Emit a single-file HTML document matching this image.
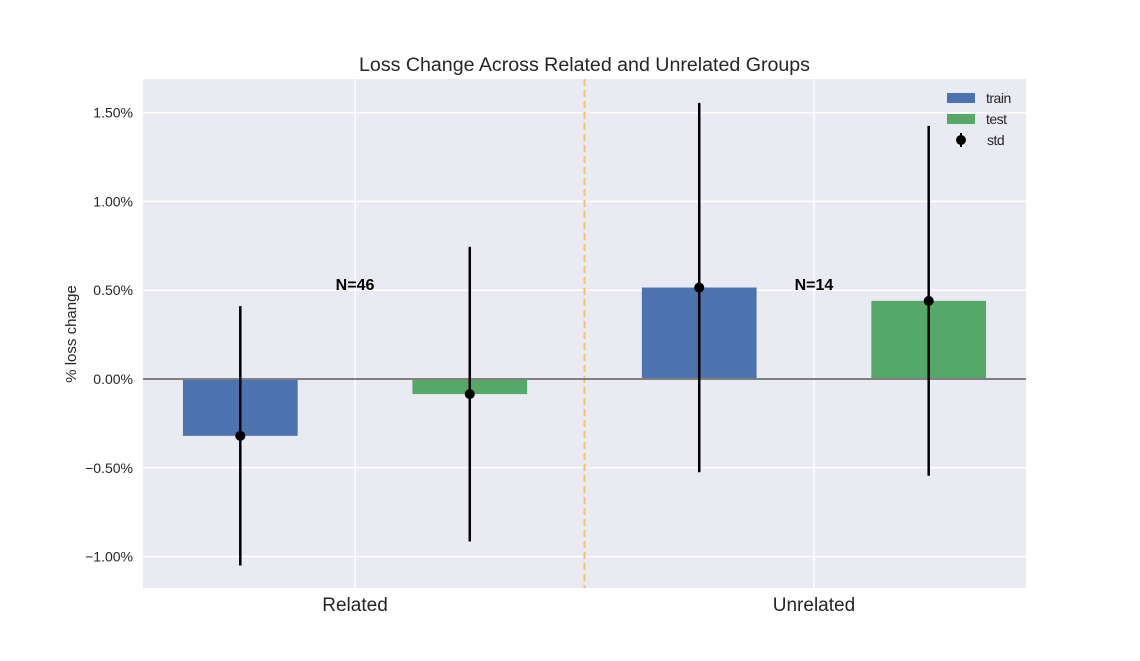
<!DOCTYPE html>
<html><head><meta charset="utf-8"><style>
body{margin:0;background:#fff;}
svg{display:block;font-family:"Liberation Sans",sans-serif;}
</style></head><body>
<svg id="chart" width="1140" height="661" viewBox="0 0 1140 661" xmlns="http://www.w3.org/2000/svg">
<rect x="143" y="79" width="883" height="509" fill="#eaeaf2"/>
<g id="grid"></g>
<g id="bars"></g>
<g id="ticks"></g>
<text x="584.5" y="71" font-size="19.6" text-anchor="middle" fill="#262626">Loss Change Across Related and Unrelated Groups</text>
<text transform="translate(76,334) rotate(-90)" font-size="15" text-anchor="middle" fill="#262626">% loss change</text>
<g>
<rect x="947" y="93" width="28" height="10" fill="#4c72b0"/>
<text x="986" y="103" font-size="14" fill="#262626" letter-spacing="-0.5">train</text>
<rect x="947" y="114" width="28" height="10" fill="#55a868"/>
<text x="986" y="124" font-size="14" fill="#262626" letter-spacing="-0.5">test</text>
<line x1="961" y1="133" x2="961" y2="147" stroke="#000" stroke-width="2"/>
<circle cx="961" cy="140" r="5" fill="#000"/>
<text x="987" y="145" font-size="14" fill="#262626" letter-spacing="-0.5">std</text>
</g>
</svg>
<script>
const categories = ["Related", "Unrelated"];
const counts = ["N=46", "N=14"];
const trainValues = [-0.32, 0.515];
const testValues = [-0.085, 0.44];
const trainStd = [0.73, 1.04];
const testStd = [0.83, 0.985];
const yTicks = [-1.0, -0.5, 0.0, 0.5, 1.0, 1.5];
const yTickLabels = ["\u22121.00%", "\u22120.50%", "0.00%", "0.50%", "1.00%", "1.50%"];

const NS = "http://www.w3.org/2000/svg";
const X0 = 143, X1 = 1026, Y0 = 79, Y1 = 588;
const xMin = -0.462, xMax = 1.462;
const yZeroPx = 379, pxPerUnit = 177.6;
function xs(v){ return X0 + (v - xMin) / (xMax - xMin) * (X1 - X0); }
function ys(v){ return yZeroPx - v * pxPerUnit; }
function mk(tag, attrs, parent){ const e = document.createElementNS(NS, tag); for (const k in attrs) e.setAttribute(k, attrs[k]); parent.appendChild(e); return e; }

const grid = document.getElementById('grid');
const bars = document.getElementById('bars');
const ticks = document.getElementById('ticks');

yTicks.forEach((t, i) => {
  const l = mk('line', {x1: X0, x2: X1, y1: ys(t), y2: ys(t), stroke: '#fff', 'stroke-width': 1.5}, grid);
  
  
  const tx = mk('text', {x: 133, y: ys(t) + 5, 'font-size': 14, 'text-anchor': 'end', fill: '#262626'}, ticks);
  tx.textContent = yTickLabels[i];
  
  
});
categories.forEach((c, i) => {
  const l = mk('line', {x1: xs(i), x2: xs(i), y1: Y0, y2: Y1, stroke: '#fff', 'stroke-width': 1.5}, grid);
  
  
  const tx = mk('text', {x: xs(i), y: 611, 'font-size': 19, 'text-anchor': 'middle', fill: '#262626'}, ticks);
  tx.textContent = c;
  
  
});
const dl = mk('line', {x1: xs(0.5), x2: xs(0.5), y1: Y0, y2: Y1, stroke: '#f5c266', 'stroke-width': 2, 'stroke-dasharray': '7,4'}, grid);



const bw = 0.25;
function drawBar(ci, off, val, sd, color, name){
  const xc = ci + off;
  const r = mk('rect', {x: xs(xc - bw/2), width: xs(xc + bw/2) - xs(xc - bw/2), y: Math.min(ys(val), ys(0)), height: Math.abs(ys(val) - ys(0)), fill: color}, bars);
  
  
}
function drawErr(ci, off, val, sd, name){
  const xc = ci + off;
  const l = mk('line', {x1: xs(xc), x2: xs(xc), y1: ys(val + sd), y2: ys(val - sd), stroke: '#000', 'stroke-width': 2.5}, bars);
  
  
  const p = mk('circle', {cx: xs(xc), cy: ys(val), r: 5, fill: '#000'}, bars);
  
  
}
categories.forEach((c, i) => {
  drawBar(i, -0.25, trainValues[i], trainStd[i], '#4c72b0', 'bar-train-' + c.toLowerCase());
  drawBar(i, 0.25, testValues[i], testStd[i], '#55a868', 'bar-test-' + c.toLowerCase());
});
const zl = mk('line', {x1: X0, x2: X1, y1: ys(0), y2: ys(0), stroke: '#808080', 'stroke-width': 2}, bars);


categories.forEach((c, i) => {
  drawErr(i, -0.25, trainValues[i], trainStd[i], 'train-' + c.toLowerCase());
  drawErr(i, 0.25, testValues[i], testStd[i], 'test-' + c.toLowerCase());
  const t = mk('text', {x: xs(i), y: 290, 'font-size': 16, 'font-weight': 'bold', 'text-anchor': 'middle', fill: '#000'}, bars);
  t.textContent = counts[i];
  
  
});
</script>
</body></html>
